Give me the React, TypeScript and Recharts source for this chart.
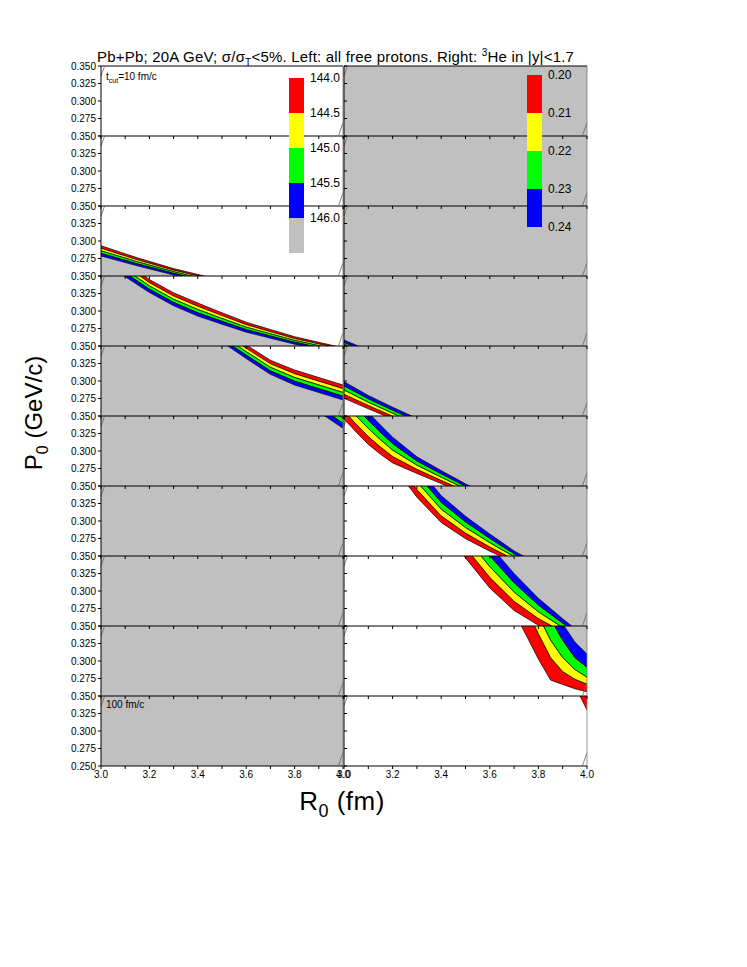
import React from 'react';
import { ComposedChart, Area, XAxis, YAxis, ReferenceLine } from 'recharts';

const FONT = '"Liberation Sans", Arial, sans-serif';
const BAND_COLORS = ['#ff0000', '#ffff00', '#00ff00', '#0000ff'];
const GRAY = '#c0c0c0';

const X_TICKS = [3.0, 3.1, 3.2, 3.3, 3.4, 3.5, 3.6, 3.7, 3.8, 3.9, 4.0];
const Y_TICKS = [0.25, 0.275, 0.3, 0.325, 0.35];

// colour scales
const LEFT_LEVELS = ['144.0', '144.5', '145.0', '145.5', '146.0'];
const RIGHT_LEVELS = ['0.20', '0.21', '0.22', '0.23', '0.24'];

// contour edges b0..b4 (white side -> gray side), P0 in GeV/c at each R0
// left column: all free protons
const FULL_X = [3.0, 4.0];
const L_WHITE = [[0.1, 0.1], [0.1, 0.1], [0.1, 0.1], [0.1, 0.1], [0.1, 0.1]];
const L_GRAY = [[0.5, 0.5], [0.5, 0.5], [0.5, 0.5], [0.5, 0.5], [0.5, 0.5]];

const L3_x = [3.0, 3.15, 3.3, 3.45];
const L3_edges = [
  [0.2933, 0.276, 0.2606, 0.248],
  [0.2896, 0.2731, 0.2583, 0.2458],
  [0.286, 0.2703, 0.2561, 0.2435],
  [0.2823, 0.2674, 0.2538, 0.2413],
  [0.2786, 0.2645, 0.2515, 0.239],
];

const L4_x = [3.0, 3.1, 3.2, 3.3, 3.4, 3.5, 3.6, 3.7, 3.8, 3.9, 4.0];
const L4_edges = [
  [0.39, 0.37, 0.345, 0.326, 0.3114, 0.2975, 0.284, 0.2736, 0.2633, 0.2553, 0.2474],
  [0.3853, 0.3648, 0.3404, 0.3214, 0.3067, 0.2934, 0.2805, 0.2705, 0.2606, 0.2529, 0.2453],
  [0.3805, 0.3595, 0.3358, 0.3168, 0.3021, 0.2893, 0.2769, 0.2674, 0.258, 0.2505, 0.2432],
  [0.3758, 0.3543, 0.3311, 0.3122, 0.2974, 0.2852, 0.2734, 0.2643, 0.2553, 0.248, 0.2411],
  [0.371, 0.349, 0.3265, 0.3076, 0.2927, 0.2811, 0.2698, 0.2612, 0.2526, 0.2456, 0.239],
];

const L5_x = [3.0, 3.4, 3.5, 3.6, 3.7, 3.8, 3.9, 4.0];
const L5_edges = [
  [0.46, 0.397, 0.3745, 0.3516, 0.3296, 0.3157, 0.305, 0.2943],
  [0.455, 0.3925, 0.3698, 0.3467, 0.3246, 0.3104, 0.2997, 0.289],
  [0.45, 0.388, 0.3651, 0.3419, 0.3196, 0.305, 0.2943, 0.2836],
  [0.445, 0.3835, 0.3603, 0.337, 0.3145, 0.2997, 0.289, 0.2783],
  [0.44, 0.379, 0.3556, 0.3321, 0.3095, 0.2943, 0.2836, 0.2729],
];

const L6_x = [3.0, 3.8, 3.9, 4.0];
const L6_edges = [
  [0.5, 0.408, 0.385, 0.361],
  [0.5, 0.401, 0.377, 0.354],
  [0.5, 0.394, 0.37, 0.347],
  [0.5, 0.386, 0.363, 0.3396],
  [0.5, 0.379, 0.3559, 0.3324],
];

// right column: 3He in |y|<1.7
const R_GRAY = [[0.1, 0.1], [0.1, 0.1], [0.1, 0.1], [0.1, 0.1], [0.1, 0.1]];

const R4_x = [3.0, 3.1, 4.0];
const R4_edges = [
  [0.248, 0.2334, 0.1],
  [0.2505, 0.236, 0.1],
  [0.2529, 0.2383, 0.1],
  [0.2553, 0.2407, 0.1],
  [0.2586, 0.244, 0.1],
];

const R5_x = [3.0, 3.1, 3.2, 3.3, 4.0];
const R5_edges = [
  [0.2753, 0.2603, 0.2456, 0.231, 0.1],
  [0.2812, 0.2651, 0.2499, 0.2349, 0.1],
  [0.2872, 0.2698, 0.2541, 0.2389, 0.1],
  [0.2931, 0.2746, 0.2584, 0.2428, 0.1],
  [0.299, 0.2793, 0.2626, 0.2467, 0.1],
];

const R6_x = [3.0, 3.05, 3.1, 3.15, 3.2, 3.3, 3.4, 3.5, 3.6, 4.0];
const R6_edges = [
  [0.3457, 0.3271, 0.3094, 0.2955, 0.283, 0.268, 0.2534, 0.239, 0.225, 0.15],
  [0.3572, 0.3387, 0.3208, 0.3059, 0.2922, 0.2739, 0.2581, 0.2425, 0.2278, 0.15],
  [0.3686, 0.3502, 0.3323, 0.3163, 0.3014, 0.2799, 0.2627, 0.2461, 0.2305, 0.15],
  [0.3801, 0.3618, 0.3437, 0.3267, 0.3106, 0.2858, 0.2674, 0.2496, 0.2333, 0.15],
  [0.3915, 0.3733, 0.3551, 0.3371, 0.3198, 0.2917, 0.272, 0.2531, 0.236, 0.15],
];

const R7_x = [3.2, 3.3, 3.4, 3.5, 3.6, 3.7, 3.8, 4.0];
const R7_edges = [
  [0.38, 0.334, 0.2978, 0.2748, 0.2568, 0.241, 0.225, 0.18],
  [0.389, 0.345, 0.3074, 0.2828, 0.263, 0.2451, 0.2283, 0.18],
  [0.398, 0.356, 0.3171, 0.2908, 0.2691, 0.2492, 0.2315, 0.18],
  [0.407, 0.367, 0.3267, 0.2988, 0.2753, 0.2532, 0.2348, 0.18],
  [0.416, 0.378, 0.3363, 0.3068, 0.2814, 0.2573, 0.238, 0.18],
];

const R8_x = [3.4, 3.5, 3.6, 3.7, 3.8, 3.9, 4.0];
const R8_edges = [
  [0.392, 0.3473, 0.3042, 0.2721, 0.2511, 0.2355, 0.22],
  [0.4058, 0.3622, 0.3195, 0.2853, 0.2607, 0.2417, 0.2232],
  [0.4195, 0.3772, 0.3348, 0.2986, 0.2703, 0.2479, 0.2263],
  [0.4333, 0.3921, 0.3501, 0.3118, 0.2799, 0.2541, 0.2295],
  [0.447, 0.407, 0.3654, 0.325, 0.2895, 0.2603, 0.2326],
];

const R9_x = [3.7, 3.75, 3.8, 3.85, 3.9, 3.95, 4.0];
const R9_edges = [
  [0.37, 0.3366, 0.3027, 0.2727, 0.2665, 0.2604, 0.256],
  [0.41, 0.375, 0.339, 0.305, 0.285, 0.274, 0.267],
  [0.43, 0.4, 0.365, 0.33, 0.305, 0.288, 0.277],
  [0.445, 0.415, 0.385, 0.36, 0.33, 0.305, 0.291],
  [0.46, 0.43, 0.405, 0.38, 0.353, 0.327, 0.31],
];

const R10_x = [3.9, 4.0];
const R10_edges = [
  [0.399, 0.33],
  [0.42, 0.352],
  [0.44, 0.37],
  [0.46, 0.39],
  [0.48, 0.41],
];

const LEFT_ROWS: [number[], number[][]][] = [
  [FULL_X, L_WHITE], [FULL_X, L_WHITE], [L3_x, L3_edges], [L4_x, L4_edges], [L5_x, L5_edges],
  [L6_x, L6_edges], [FULL_X, L_GRAY], [FULL_X, L_GRAY], [FULL_X, L_GRAY], [FULL_X, L_GRAY],
];
const RIGHT_ROWS: [number[], number[][]][] = [
  [FULL_X, R_GRAY], [FULL_X, R_GRAY], [FULL_X, R_GRAY], [R4_x, R4_edges], [R5_x, R5_edges],
  [R6_x, R6_edges], [R7_x, R7_edges], [R8_x, R8_edges], [R9_x, R9_edges], [R10_x, R10_edges],
];

const ROW_TOP = 66;
const ROW_H = 70;
const TOP_PAD = 8;
const SIDE_PAD = 16;

type PanelProps = { xs: number[]; edges: number[][]; isLeft: boolean; row: number };

const Panel: React.FC<PanelProps> = ({ xs, edges, isLeft, row }) => {
  const data = xs.map((x, i) => ({
    x, b0: edges[0][i], b1: edges[1][i], b2: edges[2][i], b3: edges[3][i], b4: edges[4][i],
  }));
  const last = row === 9;
  // left panels carry the labelled axis, right ones only inward ticks
  const yw = isLeft ? 45 : 0;
  const padL = isLeft ? 0 : SIDE_PAD;
  const plotW = isLeft ? 242 : 243;
  const xh = last ? 22 : 4;
  const left = (isLeft ? 101 : 344) - yw - padL;
  const top = ROW_TOP + row * ROW_H - TOP_PAD;

  return (
    <div style={{ position: 'absolute', left, top }}>
      <ComposedChart width={yw + padL + plotW + SIDE_PAD} height={TOP_PAD + ROW_H + xh} data={data}
        margin={{ top: TOP_PAD, right: SIDE_PAD, bottom: 0, left: padL }}>
        <Area type="linear" dataKey={isLeft ? (d: any) => [0.1, d.b4] : (d: any) => [d.b4, 0.5]}
          fill={GRAY} fillOpacity={1} stroke="none" isAnimationActive={false} dot={false} activeDot={false} />
        {BAND_COLORS.map((c, k) => (
          <Area key={k} type="linear" dataKey={(d: any) => [d['b' + k], d['b' + (k + 1)]]}
            fill={c} fillOpacity={1} stroke="#000" strokeWidth={0.7}
            isAnimationActive={false} dot={false} activeDot={false} />
        ))}
        {row === 0 && <ReferenceLine y={0.35} stroke="#000" strokeWidth={1} />}
        <ReferenceLine x={4} stroke="#777" strokeWidth={0.8} />
        <ReferenceLine segment={[{ x: 3.0, y: 0.336 }, { x: 3.014, y: 0.349 }]} stroke="#7a5a5a" strokeWidth={0.8} ifOverflow="visible" />
        <ReferenceLine segment={[{ x: 3.982, y: 0.251 }, { x: 3.999, y: 0.268 }]} stroke="#7a5a5a" strokeWidth={0.8} ifOverflow="visible" />
        <XAxis dataKey="x" type="number" domain={[3, 4]} allowDataOverflow ticks={X_TICKS} interval={0}
          height={xh} tickSize={3} stroke="#000"
          tick={{ fontSize: 10, fill: '#000', fontFamily: FONT }}
          tickFormatter={(v: number) => (last && Math.round(v * 10) % 2 === 0 ? v.toFixed(1) : '')} />
        <YAxis type="number" domain={[0.25, 0.35]} allowDataOverflow ticks={Y_TICKS} interval={0}
          width={isLeft ? yw : 1} tickSize={3} mirror={!isLeft} stroke="#000"
          tick={{ fontSize: 10, fill: '#000', fontFamily: FONT }}
          tickFormatter={(v: number) => (!isLeft || (v === 0.25 && !last) ? '' : v.toFixed(3))} />
      </ComposedChart>
    </div>
  );
};

const ColorBar: React.FC<{ x: number; top: number; step: number; colors: string[]; labels: string[] }> = ({ x, top, step, colors, labels }) => (
  <>
    {colors.map((c, i) => (
      <div key={'c' + i} style={{ position: 'absolute', left: x, top: top + i * step, width: 15, height: step, background: c }} />
    ))}
    {labels.map((l, i) => (
      <div key={'l' + i} style={{ position: 'absolute', left: x + 21, top: top + i * step - 7, fontSize: 12, lineHeight: '14px' }}>{l}</div>
    ))}
  </>
);

export default function App() {
  const rows = Array.from({ length: 10 }, (_, i) => 9 - i);
  return (
    <div style={{ position: 'absolute', left: 0, top: 0, width: 747, height: 967, background: '#fff', fontFamily: FONT, color: '#000' }}>
      {rows.map(r => (
        <React.Fragment key={r}>
          <Panel xs={LEFT_ROWS[r][0]} edges={LEFT_ROWS[r][1]} isLeft row={r} />
          <Panel xs={RIGHT_ROWS[r][0]} edges={RIGHT_ROWS[r][1]} isLeft={false} row={r} />
        </React.Fragment>
      ))}

      <div style={{ position: 'absolute', left: 97, top: 48, fontSize: 15, letterSpacing: 0.2, lineHeight: '17px', whiteSpace: 'nowrap' }}>
        Pb+Pb; 20A GeV; σ/σ<span style={{ fontSize: 10, position: 'relative', top: 4 }}>T</span>&lt;5%. Left: all free protons. Right: <span style={{ fontSize: 10, position: 'relative', top: -6 }}>3</span>He in |y|&lt;1.7
      </div>

      <div style={{ position: 'absolute', left: 106, top: 71, fontSize: 10, lineHeight: '12px', whiteSpace: 'nowrap' }}>
        t<span style={{ fontSize: 7, position: 'relative', top: 3 }}>cut</span>=10 fm/c
      </div>
      <div style={{ position: 'absolute', left: 106, top: 699, fontSize: 10, lineHeight: '12px', whiteSpace: 'nowrap' }}>100 fm/c</div>

      <ColorBar x={289} top={77.7} step={35} colors={[...BAND_COLORS, GRAY]} labels={LEFT_LEVELS} />
      <ColorBar x={527} top={75} step={38} colors={BAND_COLORS} labels={RIGHT_LEVELS} />

      <div style={{ position: 'absolute', left: 242, top: 786, width: 200, textAlign: 'center', fontSize: 26, letterSpacing: 0.5, lineHeight: '30px', whiteSpace: 'nowrap' }}>
        R<span style={{ fontSize: 18, position: 'relative', top: 7 }}>0</span> (fm)
      </div>
      <div style={{ position: 'absolute', left: 34 - 100, top: 413 - 15, width: 200, height: 30, textAlign: 'center', fontSize: 24, lineHeight: '30px', whiteSpace: 'nowrap', transform: 'rotate(-90deg)' }}>
        P<span style={{ fontSize: 16, position: 'relative', top: 6 }}>0</span> (GeV/c)
      </div>
    </div>
  );
}
